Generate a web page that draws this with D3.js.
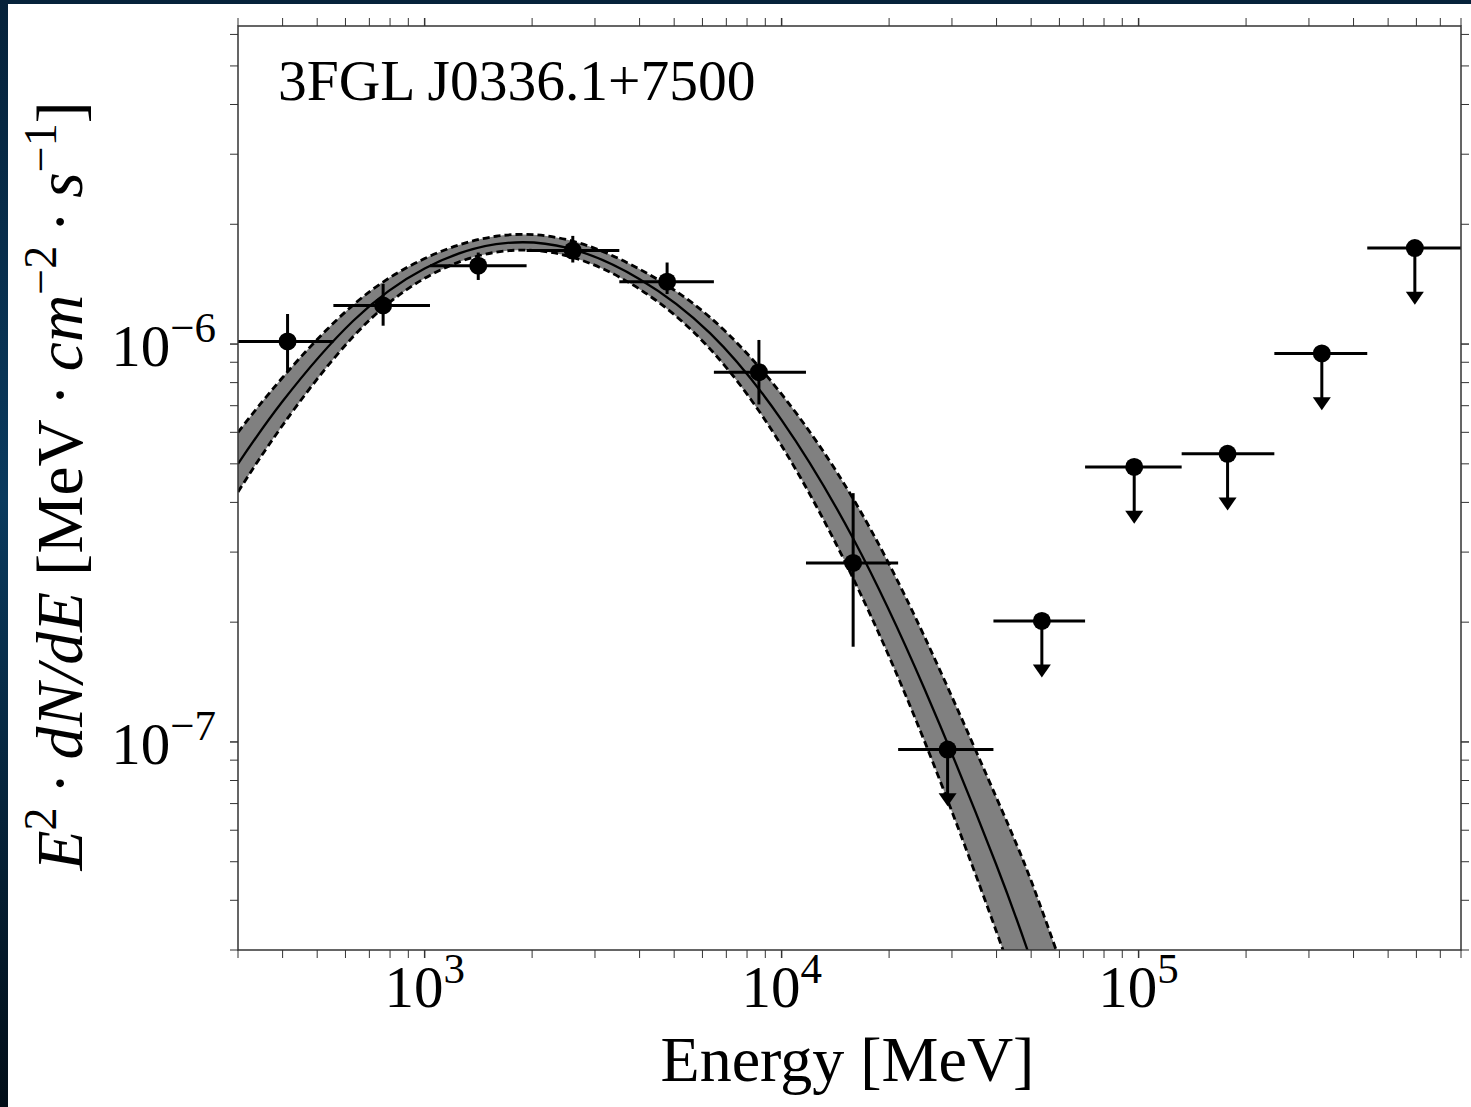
<!DOCTYPE html>
<html><head><meta charset="utf-8">
<script src="https://cdn.jsdelivr.net/npm/d3@7"></script>
<style>
html,body{margin:0;padding:0;background:#031826;}
svg{display:block;}
</style></head>
<body>
<svg id="chart" width="1471" height="1107"></svg>
<script>
// ---------- data ----------
const title = "3FGL J0336.1+7500";
const energies = [413, 765, 1413, 2600, 4777, 8637, 15860, 29170, 53570, 97200, 177500, 326000, 594000];
const eLow     = [300, 555, 1035, 1930, 3510, 6460, 11700, 21200, 39200, 70800, 132000, 240000, 437000];
const eHigh    = [555, 1035, 1930, 3510, 6460, 11700, 21200, 39200, 70800, 132000, 240000, 437000, 800000];
const flux     = [1.015e-6, 1.25e-6, 1.574e-6, 1.718e-6, 1.435e-6, 8.5e-7, 2.818e-7, 9.57e-8, 2.015e-7, 4.91e-7, 5.30e-7, 9.47e-7, 1.743e-6];
const fluxLo   = [8.5e-7, 1.112e-6, 1.449e-6, 1.603e-6, 1.336e-6, 7.05e-7, 1.735e-7, null, null, null, null, null, null];
const fluxHi   = [1.19e-6, 1.416e-6, 1.698e-6, 1.87e-6, 1.603e-6, 1.024e-6, 4.22e-7, null, null, null, null, null, null];
const isUpperLimit = [false, false, false, false, false, false, false, true, true, true, true, true, true];

// model curve (centre line and 1-sigma band)
const modelE  = [300, 400, 630, 1000, 1585, 2512, 3981, 6310, 10000, 15850, 25120, 39810, 50120, 63100];
const modelF  = [5.0e-7, 7.18e-7, 1.143e-6, 1.549e-6, 1.782e-6, 1.745e-6, 1.46e-6, 1.064e-6, 6.44e-7, 3.25e-7, 1.36e-7, 4.95e-8, 2.80e-8, 1.52e-8];
const modelLo = [4.25e-7, 6.25e-7, 1.043e-6, 1.463e-6, 1.702e-6, 1.665e-6, 1.378e-6, 9.71e-7, 5.55e-7, 2.58e-7, 1.005e-7, 3.37e-8, 1.83e-8, 9.55e-9];
const modelHi = [6.0e-7, 8.24e-7, 1.253e-6, 1.640e-6, 1.866e-6, 1.828e-6, 1.546e-6, 1.166e-6, 7.48e-7, 4.09e-7, 1.84e-7, 7.3e-8, 4.45e-8, 2.5e-8];

const xMajorTicks = [1e3, 1e4, 1e5];
const xMajorExp = ["3", "4", "5"];
const yMajorTicks = [1e-7, 1e-6];
const yMajorExp = ["\u22127", "\u22126"];
const xDomain = [300, 8e5];
const yDomain = [3e-8, 6.3e-6];
const xLabel = "Energy [MeV]";

// ---------- layout ----------
const svg = d3.select("#chart");
const L = 238, R = 1461, T = 26, B = 950;
const serif = "'Liberation Serif','Times New Roman',serif";

const defs = svg.append("defs");
const g1 = defs.append("linearGradient").attr("id","bg").attr("x1","0").attr("y1","0").attr("x2","0").attr("y2","1");
g1.append("stop").attr("offset","0").attr("stop-color","#06223a");
g1.append("stop").attr("offset","0.45").attr("stop-color","#0a3a5e");
g1.append("stop").attr("offset","1").attr("stop-color","#020e18");
svg.append("rect").attr("width",1471).attr("height",1107).attr("fill","url(#bg)");
svg.append("rect").attr("x",8).attr("y",4).attr("width",1463).attr("height",1103).attr("fill","#ffffff");

defs.append("clipPath").attr("id","plotclip").append("rect")
  .attr("x",L).attr("y",T).attr("width",R-L).attr("height",B-T);

const x = d3.scaleLog().domain(xDomain).range([L, R]);
const y = d3.scaleLog().domain(yDomain).range([B, T]);

// ---------- model band ----------
const model = modelE.map((e,i)=>({e, f:modelF[i], lo:modelLo[i], hi:modelHi[i]}));
const plot = svg.append("g").attr("clip-path","url(#plotclip)");
const crv = d3.curveNatural;
const area = d3.area().x(d=>x(d.e)).y0(d=>y(d.lo)).y1(d=>y(d.hi)).curve(crv);
plot.append("path").datum(model).attr("d",area).attr("fill","#808080");
const lineHi = d3.line().x(d=>x(d.e)).y(d=>y(d.hi)).curve(crv);
const lineLo = d3.line().x(d=>x(d.e)).y(d=>y(d.lo)).curve(crv);
const lineC  = d3.line().x(d=>x(d.e)).y(d=>y(d.f)).curve(crv);
plot.append("path").datum(model).attr("d",lineHi).attr("fill","none").attr("stroke","#000").attr("stroke-width",2.8).attr("stroke-dasharray","7,4");
plot.append("path").datum(model).attr("d",lineLo).attr("fill","none").attr("stroke","#000").attr("stroke-width",2.8).attr("stroke-dasharray","7,4");
plot.append("path").datum(model).attr("d",lineC).attr("fill","none").attr("stroke","#000").attr("stroke-width",2.3);

// ---------- data points ----------
const pts = energies.map((e,i)=>({e, lo:eLow[i], hi:eHigh[i], f:flux[i], flo:fluxLo[i], fhi:fluxHi[i], ul:isUpperLimit[i]}));
const pg = plot.append("g");
pts.forEach(d=>{
  const cx = x(d.e), cy = y(d.f);
  pg.append("line").attr("x1",x(d.lo)).attr("x2",x(d.hi)).attr("y1",cy).attr("y2",cy)
    .attr("stroke","#000").attr("stroke-width",3);
  if (!d.ul) {
    pg.append("line").attr("x1",cx).attr("x2",cx).attr("y1",y(d.fhi)).attr("y2",y(d.flo))
      .attr("stroke","#000").attr("stroke-width",3);
  } else {
    const yEnd = y(d.f*0.75);
    pg.append("line").attr("x1",cx).attr("x2",cx).attr("y1",cy).attr("y2",yEnd-2)
      .attr("stroke","#000").attr("stroke-width",3);
    pg.append("path").attr("d",`M${cx-9},${yEnd-6}L${cx+9},${yEnd-6}L${cx},${yEnd+7}Z`).attr("fill","#000");
  }
  pg.append("circle").attr("cx",cx).attr("cy",cy).attr("r",9).attr("fill","#000");
});

// ---------- axes frame & ticks ----------
const axisCol = "#333";
const fr = svg.append("g");
fr.append("rect").attr("x",L).attr("y",T).attr("width",R-L).attr("height",B-T)
  .attr("fill","none").attr("stroke",axisCol).attr("stroke-width",1.5);

function minorTicks(dom){
  const out=[]; const lo=Math.floor(Math.log10(dom[0])), hi=Math.ceil(Math.log10(dom[1]));
  for(let p=lo;p<=hi;p++) for(let k=2;k<=9;k++){ const v=k*Math.pow(10,p); if(v>=dom[0]*0.999 && v<=dom[1]*1.001) out.push(v); }
  return out;
}
const xMinor = minorTicks(xDomain), yMinor = minorTicks(yDomain);
const tl = 8;
xMinor.concat(xMajorTicks).forEach(v=>{
  const px = x(v), maj = xMajorTicks.includes(v);
  fr.append("line").attr("x1",px).attr("x2",px).attr("y1",B).attr("y2",B+tl).attr("stroke",axisCol).attr("stroke-width",maj?1.5:1);
  fr.append("line").attr("x1",px).attr("x2",px).attr("y1",T).attr("y2",T-tl).attr("stroke",axisCol).attr("stroke-width",maj?1.5:1);
});
yMinor.concat(yMajorTicks).forEach(v=>{
  const py = y(v), maj = yMajorTicks.includes(v);
  fr.append("line").attr("x1",L).attr("x2",L-tl).attr("y1",py).attr("y2",py).attr("stroke",axisCol).attr("stroke-width",maj?1.5:1);
  fr.append("line").attr("x1",R).attr("x2",R+tl).attr("y1",py).attr("y2",py).attr("stroke",axisCol).attr("stroke-width",maj?1.5:1);
});

// tick labels
xMajorTicks.forEach((v,i)=>{
  const t = svg.append("text").attr("x",x(v)).attr("y",1007).attr("text-anchor","middle")
    .attr("font-family",serif).attr("font-size",59).attr("fill","#000");
  t.append("tspan").text("10");
  t.append("tspan").attr("dy",-24).attr("font-size",43).text(xMajorExp[i]);
});
yMajorTicks.forEach((v,i)=>{
  const t = svg.append("text").attr("x",216).attr("y",y(v)+22).attr("text-anchor","end")
    .attr("font-family",serif).attr("font-size",59).attr("fill","#000");
  t.append("tspan").text("10");
  t.append("tspan").attr("dy",-24).attr("font-size",43).text(yMajorExp[i]);
});

// title
svg.append("text").attr("x",278).attr("y",100).attr("font-family",serif).attr("font-size",57.5)
  .attr("fill","#000").text(title);

// x label
svg.append("text").attr("x",(L+R)/2 - 2).attr("y",1081).attr("text-anchor","middle")
  .attr("font-family",serif).attr("font-size",64).attr("fill","#000").text(xLabel);

// y label (mathtext-like)
const yl = svg.append("text").attr("transform","translate(82,486) rotate(-90)").attr("text-anchor","middle")
  .attr("font-family",serif).attr("font-size",65.5).attr("fill","#000");
yl.append("tspan").attr("font-style","italic").text("E");
yl.append("tspan").attr("dy",-26).attr("font-size",46).text("2");
yl.append("tspan").attr("dy",26).text("\u2009\u00b7\u2009");
yl.append("tspan").attr("font-style","italic").text("dN/dE");
yl.append("tspan").text(" [MeV\u2009\u00b7\u2009");
yl.append("tspan").attr("font-style","italic").text("cm");
yl.append("tspan").attr("dy",-26).attr("font-size",46).text("\u22122");
yl.append("tspan").attr("dy",26).text("\u2009\u00b7\u2009");
yl.append("tspan").attr("font-style","italic").text("s");
yl.append("tspan").attr("dy",-26).attr("font-size",46).text("\u22121");
yl.append("tspan").attr("dy",26).text("]");
</script>
</body></html>
